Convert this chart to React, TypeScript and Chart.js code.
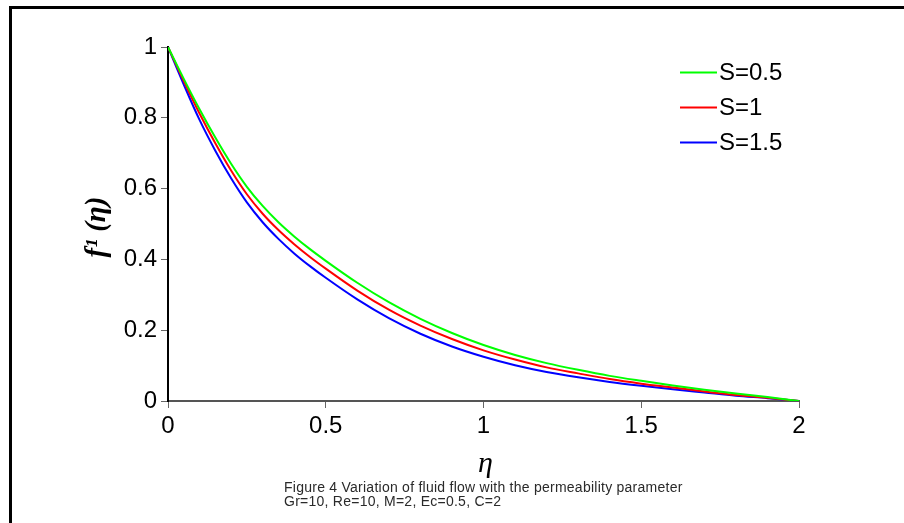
import React, { useEffect, useRef } from "react";
import { Chart, registerables } from "chart.js";

Chart.register(...registerables);

const eta = [0, 0.05, 0.1, 0.15, 0.2, 0.25, 0.3, 0.35, 0.4, 0.45, 0.5, 0.6, 0.7, 0.8, 0.9, 1.0, 1.1, 1.2, 1.3, 1.4, 1.5, 1.6, 1.7, 1.8, 1.9, 2.0];
const s05 = [1, 0.910, 0.824, 0.744, 0.670, 0.605, 0.551, 0.505, 0.465, 0.429, 0.396, 0.334, 0.279, 0.232, 0.192, 0.158, 0.130, 0.107, 0.088, 0.071, 0.057, 0.044, 0.032, 0.021, 0.011, 0];
const s10 = [1, 0.904, 0.812, 0.728, 0.651, 0.584, 0.529, 0.483, 0.443, 0.407, 0.374, 0.312, 0.258, 0.213, 0.175, 0.143, 0.117, 0.095, 0.078, 0.062, 0.049, 0.038, 0.027, 0.017, 0.009, 0];
const s15 = [1, 0.894, 0.794, 0.707, 0.629, 0.561, 0.505, 0.458, 0.417, 0.381, 0.348, 0.287, 0.234, 0.190, 0.154, 0.125, 0.101, 0.082, 0.067, 0.054, 0.043, 0.033, 0.024, 0.015, 0.008, 0];
const seriesLabels = ["S=0.5", "S=1", "S=1.5"];
const seriesColors = ["#00ff00", "#ff0000", "#0000ff"];
const xTicks = [0, 0.5, 1, 1.5, 2];
const yTicks = [0, 0.2, 0.4, 0.6, 0.8, 1];
const xTitle = "η";
const yTitle = "f¹ (η)";
const captionLines = [
  "Figure 4 Variation of fluid flow with the permeability parameter",
  "Gr=10, Re=10, M=2, Ec=0.5, C=2",
];

const SANS = "'Liberation Sans', Arial, sans-serif";
const SERIF = "'Liberation Serif', 'Times New Roman', serif";

export default function App() {
  const ref = useRef<HTMLCanvasElement | null>(null);

  useEffect(() => {
    const canvas = ref.current;
    if (!canvas) return;
    const all = [s05, s10, s15];
    const decor = {
      id: "decor",
      afterDraw(chart: any) {
        const ctx = chart.ctx as CanvasRenderingContext2D;
        const area = chart.chartArea;
        ctx.save();
        // frame
        ctx.fillStyle = "#000";
        ctx.fillRect(9, 6, 904, 3);
        ctx.fillRect(9, 6, 3, 523);
        // legend
        chart.data.datasets.forEach((ds: any, i: number) => {
          const y = 72.5 + i * 35;
          ctx.strokeStyle = ds.borderColor;
          ctx.lineWidth = 2;
          ctx.beginPath();
          ctx.moveTo(680, y);
          ctx.lineTo(717, y);
          ctx.stroke();
          ctx.fillStyle = "#000";
          ctx.font = `24px ${SANS}`;
          ctx.textAlign = "left";
          ctx.textBaseline = "middle";
          ctx.fillText(ds.label, 719, y + 1);
        });
        // y title
        ctx.save();
        ctx.translate(98, (area.top + area.bottom) / 2 + 3);
        ctx.rotate(-Math.PI / 2);
        ctx.font = `bold italic 29px ${SERIF}`;
        ctx.textAlign = "center";
        ctx.textBaseline = "middle";
        ctx.fillStyle = "#000";
        ctx.fillText(yTitle, 0, 0);
        ctx.restore();
        // x title
        ctx.font = `italic 30px ${SERIF}`;
        ctx.textAlign = "center";
        ctx.textBaseline = "middle";
        ctx.fillStyle = "#000";
        ctx.fillText(xTitle, (area.left + area.right) / 2 + 2, 464);
        // caption
        ctx.font = `14px ${SANS}`;
        (ctx as any).letterSpacing = "0.25px";
        ctx.textAlign = "left";
        ctx.fillStyle = "#2a2a2a";
        ctx.fillText(captionLines[0], 284, 488);
        ctx.fillText(captionLines[1], 284, 502);
        ctx.restore();
      },
    };

    const chart = new Chart(canvas, {
      type: "line",
      data: {
        datasets: all.map((arr, i) => ({
          label: seriesLabels[i],
          data: eta.map((x, j) => ({ x, y: arr[j] })),
          borderColor: seriesColors[i],
          backgroundColor: seriesColors[i],
          borderWidth: 2,
          pointRadius: 0,
          cubicInterpolationMode: "monotone" as const,
          fill: false,
        })),
      },
      options: {
        animation: false,
        responsive: false,
        devicePixelRatio: 1,
        layout: { padding: { left: 0, top: 47, right: 105, bottom: 0 } },
        plugins: { legend: { display: false }, tooltip: { enabled: false } },
        scales: {
          x: {
            type: "linear",
            min: 0,
            max: 2,
            afterBuildTicks: (scale: any) => {
              scale.ticks = xTicks.map((v) => ({ value: v }));
            },
            afterFit: (scale: any) => {
              scale.height = 122;
            },
            ticks: {
              color: "#000",
              font: { family: SANS, size: 24 },
              padding: 4,
              maxRotation: 0,
              callback: (v: any) => String(v),
            },
            grid: { drawOnChartArea: false, drawTicks: true, tickLength: 7, color: "#666", lineWidth: 1 },
            border: { display: true, color: "#555", width: 2 },
          },
          y: {
            type: "linear",
            min: 0,
            max: 1,
            afterBuildTicks: (scale: any) => {
              scale.ticks = yTicks.map((v) => ({ value: v }));
            },
            afterFit: (scale: any) => {
              scale.width = 168;
            },
            ticks: {
              color: "#000",
              font: { family: SANS, size: 24 },
              padding: 4,
              callback: (v: any) => String(Math.round(v * 10) / 10),
            },
            grid: { drawOnChartArea: false, drawTicks: true, tickLength: 7, color: "#666", lineWidth: 1 },
            border: { display: true, color: "#000", width: 2 },
          },
        },
      },
      plugins: [decor],
    });
    return () => chart.destroy();
  }, []);

  return (
    <div style={{ position: "absolute", left: 0, top: 0, width: 904, height: 523, background: "#fff" }}>
      <canvas ref={ref} width={904} height={523} style={{ display: "block", width: 904, height: 523 }} />
    </div>
  );
}
